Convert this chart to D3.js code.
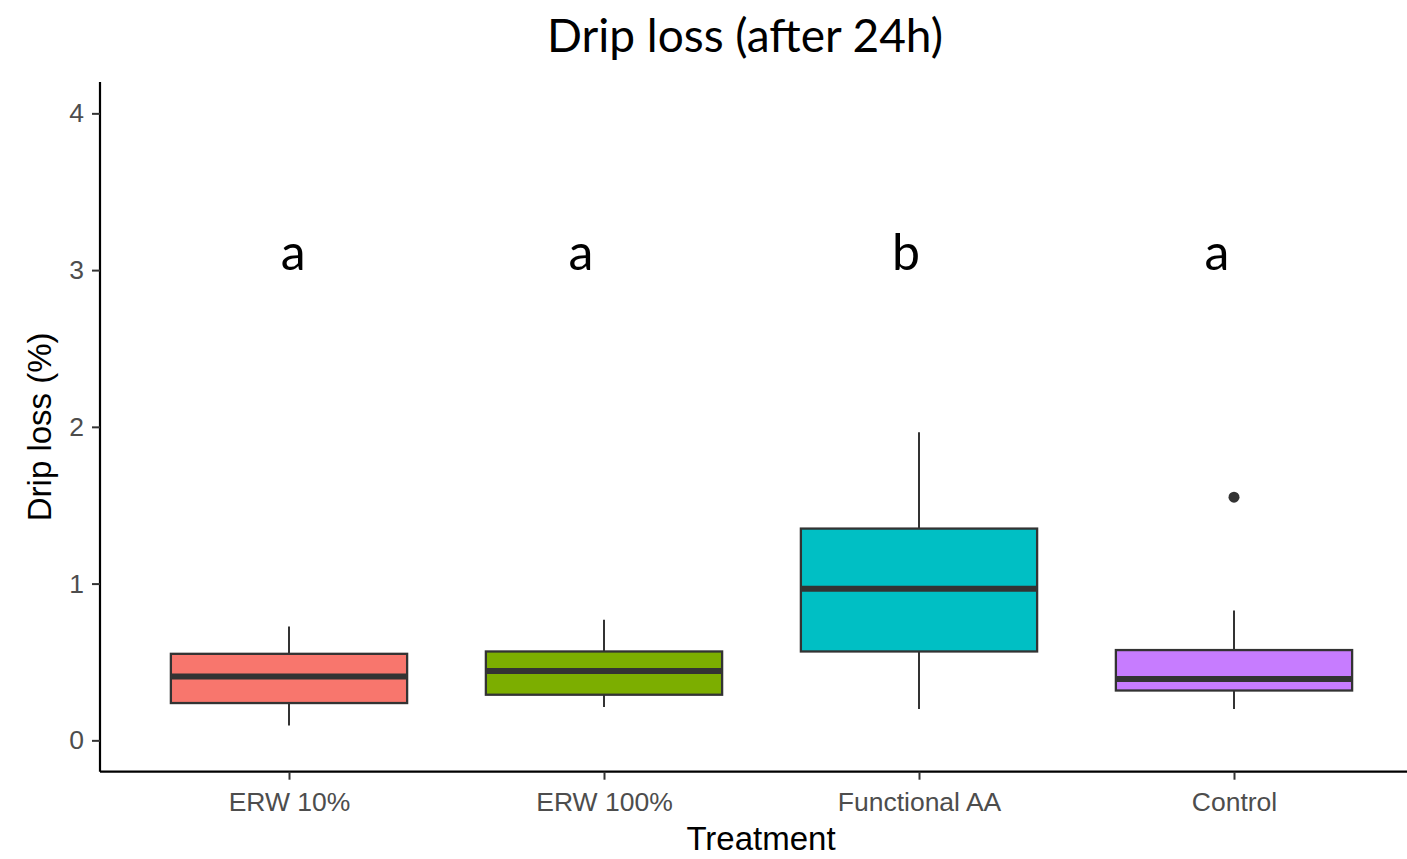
<!DOCTYPE html>
<html>
<head>
<meta charset="utf-8">
<script src="https://cdn.jsdelivr.net/npm/d3@7"></script>
<style>
  html, body { margin: 0; padding: 0; background: #ffffff; }
  svg { display: block; }
</style>
</head>
<body>
<svg id="chart" width="1407" height="859"></svg>
<script>
// Treatment groups and box-plot summaries of drip loss (%) after 24h
const categories = ["ERW 10%", "ERW 100%", "Functional AA", "Control"];
const fills = ["#F8766D", "#7CAE00", "#00BFC4", "#C77CFF"];
const whiskerLow = [0.095, 0.212, 0.200, 0.200];
const q1 = [0.238, 0.291, 0.567, 0.318];
const median = [0.408, 0.442, 0.967, 0.391];
const q3 = [0.552, 0.567, 1.351, 0.576];
const whiskerHigh = [0.726, 0.769, 1.966, 0.828];
const outliers = [[], [], [], [1.551]];
// compact-letter display, placed at x (in group index units, 1-based) and y = 3
const letters = ["a", "a", "b", "a"];
const letterPos = [1.013, 1.927, 2.959, 3.946];
const letterY = 3.0;
const yTicks = [0, 1, 2, 3, 4];

const svg = d3.select("#chart");

const panel = { left: 100, right: 1423, top: 82, bottom: 771.7 };

const x = d3.scalePoint()
  .domain(categories)
  .range([panel.left, panel.right])
  .padding(0.6);

// continuous version of the discrete axis (group 1..n)
const xNum = d3.scaleLinear()
  .domain([1, categories.length])
  .range([x(categories[0]), x(categories[categories.length - 1])]);

const y = d3.scaleLinear()
  .domain([-0.2, 4.2])
  .range([panel.bottom, panel.top]);

const boxW = x.step() * 0.75;
const ink = "#333333";

const rows = categories.map((c, i) => ({
  cat: c, fill: fills[i], lo: whiskerLow[i], q1: q1[i], med: median[i],
  q3: q3[i], hi: whiskerHigh[i], out: outliers[i],
  letter: letters[i], lx: letterPos[i]
}));

const g = svg.append("g");

// whiskers
g.selectAll("line.wlo").data(rows).enter().append("line")
  .attr("x1", d => x(d.cat)).attr("x2", d => x(d.cat))
  .attr("y1", d => y(d.lo)).attr("y2", d => y(d.q1))
  .attr("stroke", ink).attr("stroke-width", 2);
g.selectAll("line.whi").data(rows).enter().append("line")
  .attr("x1", d => x(d.cat)).attr("x2", d => x(d.cat))
  .attr("y1", d => y(d.q3)).attr("y2", d => y(d.hi))
  .attr("stroke", ink).attr("stroke-width", 2);

// boxes
g.selectAll("rect.box").data(rows).enter().append("rect")
  .attr("x", d => x(d.cat) - boxW / 2)
  .attr("width", boxW)
  .attr("y", d => y(d.q3))
  .attr("height", d => y(d.q1) - y(d.q3))
  .attr("fill", d => d.fill)
  .attr("stroke", ink).attr("stroke-width", 2.3);

// medians
g.selectAll("line.med").data(rows).enter().append("line")
  .attr("x1", d => x(d.cat) - boxW / 2).attr("x2", d => x(d.cat) + boxW / 2)
  .attr("y1", d => y(d.med)).attr("y2", d => y(d.med))
  .attr("stroke", ink).attr("stroke-width", 6);

// outliers
rows.forEach(d => {
  g.selectAll(null).data(d.out).enter().append("circle")
    .attr("cx", x(d.cat)).attr("cy", v => y(v)).attr("r", 5.5)
    .attr("fill", ink);
});

// significance letters
g.selectAll("text.letter").data(rows).enter().append("text")
  .attr("x", d => xNum(d.lx))
  .attr("y", y(letterY))
  .attr("text-anchor", "middle")
  .attr("font-family", "Lato, 'Open Sans', sans-serif")
  .attr("font-size", 50)
  .attr("fill", "#000")
  .text(d => d.letter);

// axes
const xAxis = svg.append("g")
  .attr("transform", `translate(0,${panel.bottom})`)
  .call(d3.axisBottom(x).tickSize(8).tickPadding(12));
const yAxis = svg.append("g")
  .attr("transform", `translate(${panel.left},0)`)
  .call(d3.axisLeft(y).tickValues(yTicks).tickFormat(d3.format("d")).tickSize(8).tickPadding(8));

[xAxis, yAxis].forEach(ax => {
  ax.select(".domain").attr("stroke", "#000").attr("stroke-width", 2.2);
  ax.selectAll(".tick line").attr("stroke", ink).attr("stroke-width", 2);
  ax.selectAll(".tick text")
    .attr("fill", "#4D4D4D")
    .attr("font-family", "'Liberation Sans', Arial, sans-serif")
    .attr("font-size", 26.5);
});
// plain axis lines without end ticks
yAxis.select(".domain").attr("d", `M0,${panel.bottom}V${panel.top}`);
xAxis.select(".domain").attr("d", `M${panel.left},0H${panel.right}`);

// titles
svg.append("text")
  .attr("x", 745).attr("y", 52)
  .attr("text-anchor", "middle")
  .attr("font-family", "Lato, 'Open Sans', sans-serif")
  .attr("font-size", 46)
  .attr("fill", "#000")
  .text("Drip loss (after 24h)");

svg.append("text")
  .attr("x", 761).attr("y", 850)
  .attr("text-anchor", "middle")
  .attr("font-family", "'Liberation Sans', Arial, sans-serif")
  .attr("font-size", 33)
  .attr("fill", "#000")
  .text("Treatment");

svg.append("text")
  .attr("transform", `translate(51,${(panel.top + panel.bottom) / 2}) rotate(-90)`)
  .attr("text-anchor", "middle")
  .attr("font-family", "'Liberation Sans', Arial, sans-serif")
  .attr("font-size", 33)
  .attr("fill", "#000")
  .text("Drip loss (%)");
</script>
</body>
</html>
